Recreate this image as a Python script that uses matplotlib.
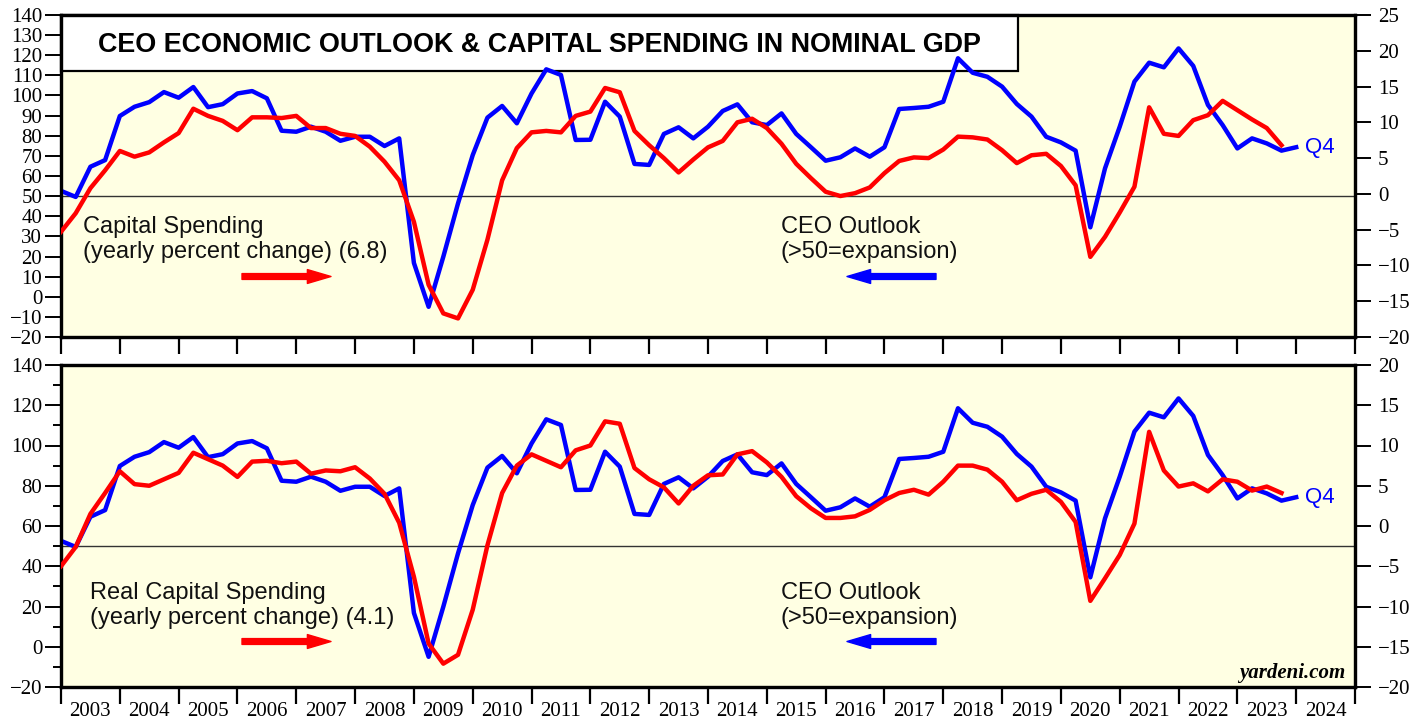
import numpy as np
import pandas as pd
import matplotlib
matplotlib.use("Agg")
import matplotlib.pyplot as plt
from matplotlib.ticker import MultipleLocator
from matplotlib.patches import Rectangle

plt.rcParams['font.family'] = ['Liberation Serif', 'DejaVu Serif']

# quarterly data, plotted at quarter end (2002Q4 -> 2003.0)
ceo_quarters = pd.period_range('2002Q4', '2023Q4', freq='Q')
capex_quarters = pd.period_range('2002Q4', '2023Q3', freq='Q')

# Business Roundtable CEO Economic Outlook index
ceo_outlook = [52.6, 49.6, 64.6, 67.9, 89.8, 94.4, 96.7, 101.7, 98.9, 104.2,
               94.2, 95.7, 101.0, 102.2, 98.6, 82.5, 82.0, 84.5, 82.0, 77.5,
               79.5, 79.5, 74.9, 78.7, 16.8, -5.0, 19.9, 46.4, 70.4, 89.0,
               94.8, 86.2, 101.0, 113.0, 110.2, 77.9, 78.0, 96.9, 89.5, 66.0,
               65.5, 80.9, 84.2, 78.7, 84.5, 92.3, 95.6, 86.7, 85.3, 91.1,
               80.9, 74.3, 67.6, 69.3, 73.7, 69.6, 74.3, 93.3, 93.8, 94.4,
               96.9, 118.5, 111.3, 109.3, 104.4, 95.8, 89.5, 79.5, 76.7, 72.6,
               34.5, 63.8, 84.5, 106.9, 116.3, 114.0, 123.4, 114.7, 95.3, 85.3,
               73.7, 78.7, 76.2, 72.6, 74.3]

# capital spending in nominal GDP, yearly % change
capex_nominal = [-5.3, -2.7, 0.8, 3.3, 6.0, 5.2, 5.8, 7.2, 8.5, 11.9,
                 10.9, 10.2, 8.9, 10.7, 10.7, 10.6, 10.9, 9.2, 9.2, 8.4,
                 8.1, 6.6, 4.5, 1.9, -3.9, -12.7, -16.7, -17.4, -13.4, -6.4,
                 1.9, 6.4, 8.6, 8.8, 8.6, 10.9, 11.5, 14.8, 14.2, 8.8,
                 6.8, 5.0, 3.0, 4.8, 6.5, 7.4, 10.0, 10.5, 9.2, 7.0,
                 4.2, 2.2, 0.3, -0.3, 0.1, 0.9, 2.9, 4.6, 5.1, 5.0,
                 6.2, 8.0, 7.9, 7.6, 6.1, 4.3, 5.4, 5.6, 3.9, 1.2,
                 -8.8, -6.0, -2.6, 1.0, 12.1, 8.4, 8.1, 10.3, 11.0, 13.0,
                 11.7, 10.4, 9.2, 6.8]

# real capital spending, yearly % change
capex_real = [-5.0, -2.6, 1.5, 4.1, 6.8, 5.2, 5.0, 5.8, 6.6, 9.1,
              8.3, 7.5, 6.1, 8.0, 8.1, 7.8, 8.0, 6.5, 6.9, 6.8,
              7.3, 5.9, 4.0, 0.4, -6.3, -14.6, -17.1, -16.0, -10.4, -2.4,
              4.1, 7.5, 8.9, 8.1, 7.3, 9.4, 10.0, 13.0, 12.7, 7.2,
              5.8, 4.8, 2.8, 5.0, 6.3, 6.4, 8.9, 9.3, 7.9, 6.1,
              3.7, 2.2, 1.0, 1.0, 1.2, 2.0, 3.2, 4.1, 4.5, 3.9,
              5.5, 7.5, 7.5, 7.0, 5.5, 3.2, 4.0, 4.5, 3.0, 0.5,
              -9.3, -6.5, -3.6, 0.3, 11.7, 6.9, 4.9, 5.3, 4.3, 5.8,
              5.5, 4.4, 4.9, 4.1]

years = list(range(2003, 2025))


def to_decimal(periods):
    return periods.year + periods.quarter / 4.0


x_ceo = to_decimal(ceo_quarters)
x_capex = to_decimal(capex_quarters)

W, H = 1424, 719
fig = plt.figure(figsize=(W / 100, H / 100), dpi=100)
fig.patch.set_facecolor('white')


def frame(top, bottom):
    return [61 / W, 1 - bottom / H, (1355 - 61) / W, (bottom - top) / H]


def style_axes(a):
    for sp in a.spines.values():
        sp.set_linewidth(2.3)
        sp.set_color('black')


def panel(ax, capex, right_lim, left_major, left_minor, bottom_labels):
    ax.set_facecolor('#ffffe3')
    ax.set_xlim(2003, 2025)
    ax.set_ylim(-20, 140)
    ax.axhline(50, color='#333333', lw=1.0, zorder=1)
    ax.plot(x_ceo, ceo_outlook, color='#0000ff', lw=3.2, zorder=3)
    ax.yaxis.set_major_locator(MultipleLocator(left_major))
    if left_minor:
        ax.yaxis.set_minor_locator(MultipleLocator(left_minor))
    ax.tick_params(axis='y', which='major', direction='out', length=11.5,
                   width=1.4, labelsize=15, pad=2)
    ax.tick_params(axis='y', which='minor', direction='out', length=5.5,
                   width=1.4)
    ax.set_xticks(years + [2025])
    ax.tick_params(axis='x', which='major', direction='out', length=12.5,
                   width=1.6, labelbottom=False)
    if bottom_labels:
        ax.set_xticks([y + 0.5 for y in years], minor=True)
        ax.set_xticklabels([str(y) for y in years], minor=True)
        ax.tick_params(axis='x', which='minor', length=0, labelsize=15,
                       pad=10.5)

    ax2 = ax.twinx()
    ax2.plot(x_capex, capex, color='#ff0000', lw=3.2, zorder=3)
    ax2.set_ylim(*right_lim)
    ax2.yaxis.set_major_locator(MultipleLocator(5))
    ax2.tick_params(axis='y', direction='out', length=11.5, width=1.4,
                    labelsize=15, pad=5)
    style_axes(ax)
    style_axes(ax2)
    return ax2


ax_top = fig.add_axes(frame(15, 337))
ax_top_r = panel(ax_top, capex_nominal, (-20, 25), 10, None, False)
ax_bot = fig.add_axes(frame(365, 687))
ax_bot_r = panel(ax_bot, capex_real, (-20, 20), 20, 10, True)

# title box in the top panel, under the lines
box_w = (1018 - 61) / 1294
box_h = (71 - 15) / 322
ax_top.add_patch(Rectangle((0, 1 - box_h), box_w, box_h, transform=ax_top.transAxes,
                           facecolor='white', edgecolor='black', lw=1.6,
                           zorder=2, clip_on=False))
ax_top.text(box_w / 2, 1 - box_h / 2 - 0.005,
            'CEO ECONOMIC OUTLOOK & CAPITAL SPENDING IN NOMINAL GDP',
            transform=ax_top.transAxes, ha='center', va='center',
            fontsize=19.4, fontweight='bold', family='Liberation Sans', zorder=2.5)

sans = dict(family='Liberation Sans', fontsize=17, color='#111111')


def fig_text(px, py, s, **kw):
    fig.text(px / W, 1 - py / H, s, **kw)


def arrow(ax, x0, x1, py, color):
    ann = ax.annotate('', xy=(x1, H - py), xytext=(x0, H - py), xycoords='figure pixels',
                      textcoords='figure pixels', annotation_clip=False,
                      arrowprops=dict(arrowstyle='simple,head_length=1.7,head_width=1.0,tail_width=0.42',
                                      color=color, mutation_scale=10, shrinkA=0, shrinkB=0))
    ann.arrow_patch.set_clip_on(False)


fig_text(83, 216, 'Capital Spending\n(yearly percent change) (6.8)', va='top', ha='left', **sans)
fig_text(781, 216, 'CEO Outlook\n(>50=expansion)', va='top', ha='left', **sans)
fig_text(90, 582, 'Real Capital Spending\n(yearly percent change) (4.1)', va='top', ha='left', **sans)
fig_text(781, 582, 'CEO Outlook\n(>50=expansion)', va='top', ha='left', **sans)

for a, py in ((ax_top, 276.5), (ax_bot, 641.5)):
    arrow(a, 242, 331, py, '#ff0000')
    arrow(a, 936, 847, py, '#0000ff')
    a.annotate('Q4', xy=(x_ceo[-1], ceo_outlook[-1]), xytext=(6, 0),
               textcoords='offset points', va='center', ha='left',
               color='#0000ff', family='Liberation Sans', fontsize=16)

fig_text(1345, 678, 'yardeni.com', ha='right', va='baseline', fontsize=15,
         fontweight='bold', style='italic', family='Liberation Serif')

fig.savefig('out.png', dpi=100)
